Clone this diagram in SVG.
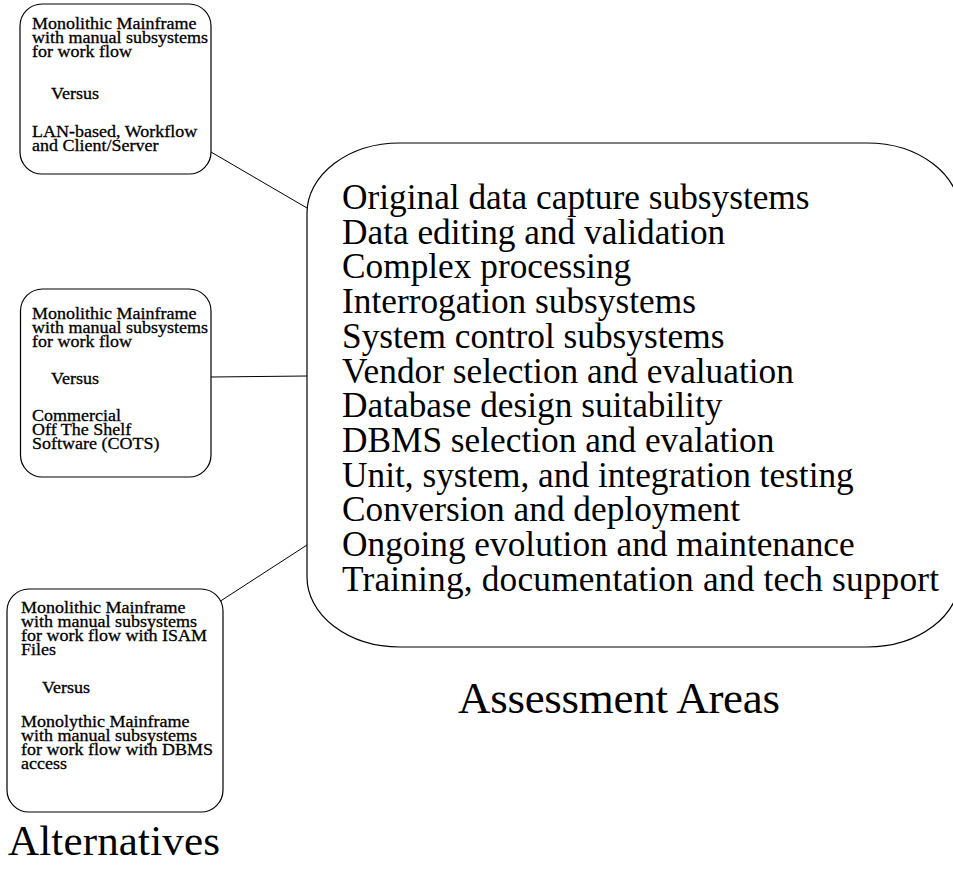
<svg xmlns="http://www.w3.org/2000/svg" width="953" height="869" viewBox="0 0 953 869">
<style>
.box{fill:#fff;stroke:#000;stroke-width:1.2}
.conn{stroke:#000;stroke-width:1;fill:none}
.s{font-family:"Liberation Serif","Times New Roman",serif;font-size:17px;fill:#000;stroke:#000;stroke-width:0.3}
.b{font-family:"Liberation Serif","Times New Roman",serif;font-size:35.3px;fill:#000}
.t{font-family:"Liberation Serif","Times New Roman",serif;fill:#000}
</style>
<rect width="953" height="869" fill="#fff"/>
<g id="connectors">
<line class="conn" x1="211" y1="152" x2="307" y2="208"/>
<line class="conn" x1="211" y1="377" x2="307" y2="376"/>
<line class="conn" x1="219" y1="602" x2="307" y2="545"/>
</g>
<g id="alt1">
<rect class="box" x="20" y="4" width="191" height="170" rx="22" ry="22"/>
<text class="s" transform="scale(1.06,1)"><tspan x="30.19" y="29">Monolithic Mainframe</tspan><tspan x="30.19" y="43">with manual subsystems</tspan><tspan x="30.19" y="57">for work flow</tspan><tspan x="48.11" y="99">Versus</tspan><tspan x="30.19" y="137">LAN-based, Workflow</tspan><tspan x="30.19" y="151">and Client/Server</tspan></text>
</g>
<g id="alt2">
<rect class="box" x="20.5" y="289" width="190.5" height="188" rx="22" ry="22"/>
<text class="s" transform="scale(1.06,1)"><tspan x="30.19" y="319">Monolithic Mainframe</tspan><tspan x="30.19" y="333">with manual subsystems</tspan><tspan x="30.19" y="347">for work flow</tspan><tspan x="48.11" y="384">Versus</tspan><tspan x="30.19" y="421">Commercial</tspan><tspan x="30.19" y="435">Off The Shelf</tspan><tspan x="30.19" y="449">Software (COTS)</tspan></text>
</g>
<g id="alt3">
<rect class="box" x="7" y="589" width="216" height="223" rx="22" ry="22"/>
<text class="s" transform="scale(1.06,1)"><tspan x="19.81" y="613">Monolithic Mainframe</tspan><tspan x="19.81" y="627">with manual subsystems</tspan><tspan x="19.81" y="641">for work flow with ISAM</tspan><tspan x="19.81" y="655">Files</tspan><tspan x="39.62" y="693">Versus</tspan><tspan x="19.81" y="727">Monolythic Mainframe</tspan><tspan x="19.81" y="741">with manual subsystems</tspan><tspan x="19.81" y="755">for work flow with DBMS</tspan><tspan x="19.81" y="769">access</tspan></text>
</g>
<g id="assessment">
<rect class="box" x="307" y="143" width="653" height="504" rx="93" ry="70"/>
<text class="b" x="342" y="209">Original data capture subsystems</text>
<text class="b" x="342" y="243.7">Data editing and validation</text>
<text class="b" x="342" y="278.4">Complex processing</text>
<text class="b" x="342" y="313.1">Interrogation subsystems</text>
<text class="b" x="342" y="347.8">System control subsystems</text>
<text class="b" x="342" y="382.5">Vendor selection and evaluation</text>
<text class="b" x="342" y="417.2">Database design suitability</text>
<text class="b" x="342" y="451.9">DBMS selection and evalation</text>
<text class="b" x="342" y="486.6">Unit, system, and integration testing</text>
<text class="b" x="342" y="521.3">Conversion and deployment</text>
<text class="b" x="342" y="556">Ongoing evolution and maintenance</text>
<text class="b" x="342" y="590.7" textLength="597" lengthAdjust="spacing">Training, documentation and tech support</text>
</g>
<g id="labels">
<text class="t" x="458" y="713" font-size="45" textLength="322" lengthAdjust="spacing">Assessment Areas</text>
<text class="t" x="8" y="855" font-size="43" textLength="212" lengthAdjust="spacing">Alternatives</text>
</g>
</svg>
